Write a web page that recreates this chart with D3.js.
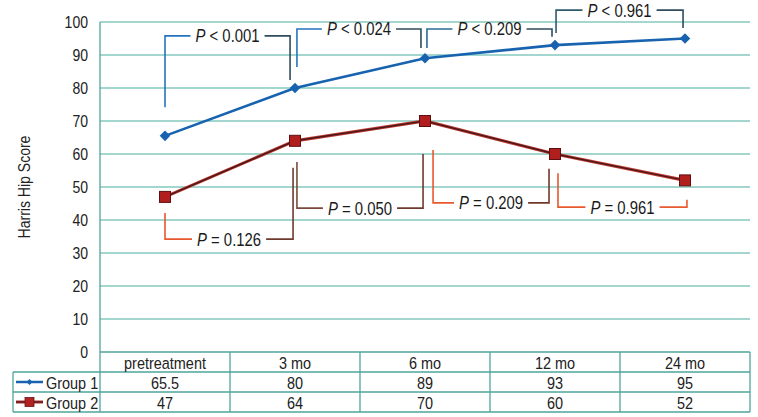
<!DOCTYPE html>
<html>
<head>
<meta charset="utf-8">
<script src="https://cdn.jsdelivr.net/npm/d3@7"></script>
<style>
  html, body { margin: 0; padding: 0; background: #fff; }
  svg { display: block; font-family: "Liberation Sans", Arial, sans-serif; }
</style>
</head>
<body>
<svg id="chart" width="758" height="417"></svg>
<script>
// ---------------------------------------------------------------------------
// Data
// ---------------------------------------------------------------------------

const categories = ["pretreatment", "3 mo", "6 mo", "12 mo", "24 mo"];
const seriesNames = ["Group 1", "Group 2"];
const group1 = [65.5, 80, 89, 93, 95];
const group2 = [47, 64, 70, 60, 52];
const tableGroup1 = ["65.5", "80", "89", "93", "95"];
const tableGroup2 = ["47", "64", "70", "60", "52"];
const yTicks = [0, 10, 20, 30, 40, 50, 60, 70, 80, 90, 100];

// P-value brackets: ends as category index, heights in score units
const bracketLabels1 = [["P", " < 0.001"], ["P", " < 0.024"], ["P", " < 0.209"], ["P", " < 0.961"]];
const bracketFrom1 = [0, 1.015, 2.015, 3.008];
const bracketTo1 = [0.962, 1.969, 2.977, 3.985];
const bracketBar1 = [95.8, 97.9, 97.9, 103.6];
const bracketStart1 = [74.2, 86.4, 92.1, 96.7];
const bracketEnd1 = [82.4, 92.1, 95.5, 98.2];

const bracketLabels2 = [["P", " = 0.126"], ["P", " = 0.050"], ["P", " = 0.209"], ["P", " = 0.961"]];
const bracketFrom2 = [0, 1.015, 2.062, 3.023];
const bracketTo2 = [0.985, 1.985, 2.954, 4.015];
const bracketBar2 = [34.2, 43.6, 45.2, 43.9];
const bracketStart2 = [42.1, 57.6, 61.2, 54.2];
const bracketEnd2 = [55.8, 60.0, 55.5, 46.1];

// ---------------------------------------------------------------------------
// Styles
// ---------------------------------------------------------------------------

const GRID = "#86c9c1";
const BORDER = "#4fa49c";
const BLUE = "#1763b0";
const NARROW = 0.85;   // the original uses a condensed face; squeeze Liberation Sans
const bracketColors1 = [["#2474bd", "#2f4c5c"], ["#2474bd", "#2f4c5c"], ["#2a6a98", "#2f4c5c"], ["#2f5a6c", "#2f4c5c"]];
const bracketColors2 = [["#e8562e", "#6e3a2e"], ["#7c4a3c", "#6e3a2e"], ["#e8582e", "#713829"], ["#e8582e", "#e85a30"]];

const margin = { left: 100, right: 8, top: 22, plotBottom: 352, rowH: 20 };
const W = 758;

const svg = d3.select("#chart");
const defs = svg.append("defs");

const x = d3.scaleBand().domain(categories).range([margin.left, W - margin.right]);
const y = d3.scaleLinear().domain([0, 100]).range([margin.plotBottom, margin.top]);
const xi = d3.scaleLinear()
    .domain([0, categories.length - 1])
    .range([x(categories[0]) + x.bandwidth() / 2, x(categories[categories.length - 1]) + x.bandwidth() / 2]);

// move x/y into a transform so the glyphs can be squeezed horizontally
function squeeze(sel) {
    sel.each(function () {
        const t = d3.select(this);
        const tx = +t.attr("x") || 0, ty = +t.attr("y") || 0;
        const rot = t.attr("data-rot") || "";
        t.attr("x", 0).attr("y", 0)
            .attr("transform", `translate(${tx},${ty}) ${rot} scale(${NARROW},1)`);
    });
}

// ---------------------------------------------------------------------------
// Grid + y axis
// ---------------------------------------------------------------------------

svg.append("g").selectAll("line")
    .data(yTicks.filter(d => d > 0))
    .join("line")
    .attr("x1", margin.left).attr("x2", W - margin.right)
    .attr("y1", d => y(d)).attr("y2", d => y(d))
    .attr("stroke", GRID).attr("stroke-width", 1.3);

const yAxis = svg.append("g")
    .attr("transform", `translate(${margin.left},0)`)
    .call(d3.axisLeft(y).tickValues(yTicks).tickSize(0).tickPadding(12));
yAxis.select(".domain").remove();
yAxis.selectAll("text")
    .attr("font-size", "16.5px")
    .attr("fill", "#222")
    .attr("font-family", null)
    .attr("transform", `scale(${NARROW},1)`)
    .attr("x", -12 / NARROW);

svg.append("text")
    .attr("x", 30).attr("y", (margin.top + margin.plotBottom) / 2)
    .attr("data-rot", "rotate(-90)")
    .attr("text-anchor", "middle")
    .attr("font-size", "16.5px")
    .attr("fill", "#222")
    .text("Harris Hip Score")
    .call(squeeze);

// ---------------------------------------------------------------------------
// Data table
// ---------------------------------------------------------------------------

const tTop = margin.plotBottom;
const rH = margin.rowH;
const tBottom = tTop + rH * 3;
const table = svg.append("g").attr("stroke", BORDER).attr("stroke-width", 1.3);

// horizontal lines
[[margin.left, tTop], [13, tTop + rH], [13, tTop + rH * 2], [13, tBottom]].forEach(([x0, yy]) => {
    table.append("line").attr("x1", x0).attr("x2", W - margin.right).attr("y1", yy).attr("y2", yy);
});
// vertical lines
categories.forEach(c => {
    table.append("line").attr("x1", x(c)).attr("x2", x(c)).attr("y1", tTop).attr("y2", tBottom);
});
table.append("line").attr("x1", W - margin.right).attr("x2", W - margin.right).attr("y1", tTop).attr("y2", tBottom);
table.append("line").attr("x1", 13).attr("x2", 13).attr("y1", tTop + rH).attr("y2", tBottom);
// plot left edge
svg.append("line")
    .attr("x1", margin.left).attr("x2", margin.left)
    .attr("y1", margin.top).attr("y2", tTop)
    .attr("stroke", BORDER).attr("stroke-width", 1.3);

const tableText = svg.append("g")
    .attr("font-size", "17px")
    .attr("fill", "#222")
    .attr("text-anchor", "middle")
    .attr("dominant-baseline", "central");

tableText.selectAll(".hdr").data(categories).join("text")
    .attr("class", "hdr")
    .attr("x", d => x(d) + x.bandwidth() / 2)
    .attr("y", tTop + rH / 2 + 1)
    .text(d => d);
tableText.selectAll(".r1").data(tableGroup1).join("text")
    .attr("class", "r1")
    .attr("x", (d, i) => x(categories[i]) + x.bandwidth() / 2)
    .attr("y", tTop + rH * 1.5 + 1)
    .text(d => d);
tableText.selectAll(".r2").data(tableGroup2).join("text")
    .attr("class", "r2")
    .attr("x", (d, i) => x(categories[i]) + x.bandwidth() / 2)
    .attr("y", tTop + rH * 2.5 + 1)
    .text(d => d);
tableText.selectAll("text").call(squeeze);

// legend keys in the table
const diamond = d3.symbol().type(d3.symbolSquare);
seriesNames.forEach((name, i) => {
    const cy = tTop + rH * (1.5 + i);
    const g = svg.append("g");
    if (i === 0) {
        g.append("line").attr("x1", 16).attr("x2", 43).attr("y1", cy).attr("y2", cy)
            .attr("stroke", BLUE).attr("stroke-width", 2.5);
        g.append("path").attr("d", diamond.size(18)())
            .attr("transform", `translate(29.5,${cy}) rotate(45)`)
            .attr("fill", BLUE);
    } else {
        g.append("line").attr("x1", 16).attr("x2", 43).attr("y1", cy).attr("y2", cy)
            .attr("stroke", "#b83030").attr("stroke-width", 3);
        g.append("line").attr("x1", 16).attr("x2", 43).attr("y1", cy).attr("y2", cy)
            .attr("stroke", "#4a1a1a").attr("stroke-width", 1.2);
        g.append("rect").attr("x", 25).attr("y", cy - 4.5).attr("width", 9).attr("height", 9)
            .attr("fill", "#b22222").attr("stroke", "#6a1414").attr("stroke-width", 0.8);
    }
    g.append("text")
        .attr("x", 46).attr("y", cy + 1)
        .attr("dominant-baseline", "central")
        .attr("font-size", "17px")
        .attr("fill", "#222")
        .text(name)
        .call(squeeze);
});

// ---------------------------------------------------------------------------
// Brackets
// ---------------------------------------------------------------------------

function drawBracket(id, labels, from, to, bar, start, end, colors) {
    const g = svg.append("g");
    const x0 = xi(from), x1 = xi(to), yb = y(bar);
    const grad = defs.append("linearGradient")
        .attr("id", id)
        .attr("gradientUnits", "userSpaceOnUse")
        .attr("x1", x0).attr("x2", x1).attr("y1", 0).attr("y2", 0);
    grad.append("stop").attr("offset", "0%").attr("stop-color", colors[0]);
    grad.append("stop").attr("offset", "45%").attr("stop-color", colors[0]);
    grad.append("stop").attr("offset", "55%").attr("stop-color", colors[1]);
    grad.append("stop").attr("offset", "100%").attr("stop-color", colors[1]);

    const mid = (x0 + x1) / 2;
    const text = g.append("text")
        .attr("x", mid)
        .attr("y", yb)
        .attr("text-anchor", "middle")
        .attr("dominant-baseline", "central")
        .attr("font-size", "17.5px")
        .attr("fill", "#1a1a1a");
    text.append("tspan").attr("font-style", "italic").text(labels[0]);
    text.append("tspan").text(labels[1]);
    const tw = text.node().getComputedTextLength() * NARROW;
    text.call(squeeze);
    const gap = tw / 2 + 5;

    const path = `M${x0},${y(start)}V${yb}H${mid - gap}M${mid + gap},${yb}H${x1}V${y(end)}`;
    g.insert("path", "text")
        .attr("d", path)
        .attr("fill", "none")
        .attr("stroke", `url(#${id})`)
        .attr("stroke-width", 1.6);
}

bracketLabels1.forEach((lab, i) => {
    drawBracket("b1_" + i, lab, bracketFrom1[i], bracketTo1[i], bracketBar1[i],
        bracketStart1[i], bracketEnd1[i], bracketColors1[i]);
});
bracketLabels2.forEach((lab, i) => {
    drawBracket("b2_" + i, lab, bracketFrom2[i], bracketTo2[i], bracketBar2[i],
        bracketStart2[i], bracketEnd2[i], bracketColors2[i]);
});

// ---------------------------------------------------------------------------
// Series lines + markers
// ---------------------------------------------------------------------------

const line = d3.line().x((d, i) => x(categories[i]) + x.bandwidth() / 2).y(d => y(d));

svg.append("path").datum(group2).attr("d", line)
    .attr("fill", "none").attr("stroke", "#c03a32").attr("stroke-width", 3.2);
svg.append("path").datum(group2).attr("d", line)
    .attr("fill", "none").attr("stroke", "#4a1818").attr("stroke-width", 1.4);
svg.append("g").selectAll("rect").data(group2).join("rect")
    .attr("x", (d, i) => x(categories[i]) + x.bandwidth() / 2 - 5.5)
    .attr("y", d => y(d) - 5.5)
    .attr("width", 11).attr("height", 11)
    .attr("fill", "#b01e1e").attr("stroke", "#5e1010").attr("stroke-width", 1);

svg.append("path").datum(group1).attr("d", line)
    .attr("fill", "none").attr("stroke", BLUE).attr("stroke-width", 2.6);
svg.append("g").selectAll("path").data(group1).join("path")
    .attr("d", diamond.size(56)())
    .attr("transform", (d, i) => `translate(${x(categories[i]) + x.bandwidth() / 2},${y(d)}) rotate(45)`)
    .attr("fill", BLUE);
</script>
</body>
</html>
